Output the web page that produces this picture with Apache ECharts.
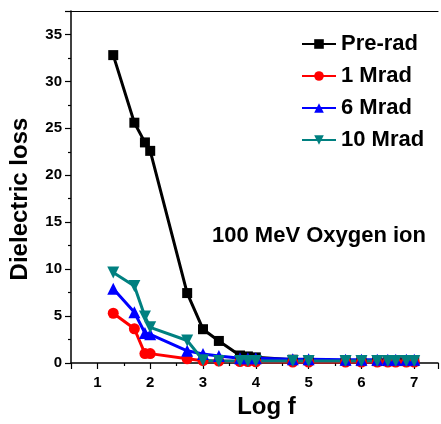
<!DOCTYPE html>
<html><head><meta charset="utf-8">
<script src="https://cdn.jsdelivr.net/npm/echarts@6/dist/echarts.min.js"></script>
<style>html,body{margin:0;padding:0;background:#fff}#c{width:441px;height:424px}</style>
</head><body><div id="c"></div>
<script>
const logF = [1.3, 1.7, 1.9, 2.0, 2.7, 3.0, 3.3, 3.7, 3.85, 4.0, 4.7, 5.0, 5.7, 6.0, 6.3, 6.5, 6.65, 6.85, 7.0];
const preRad = [32.8, 25.6, 23.5, 22.6, 7.45, 3.6, 2.35, 0.8, 0.7, 0.6, 0.35, 0.3, 0.25, 0.2, 0.2, 0.2, 0.2, 0.2, 0.2];
const mrad1 = [5.3, 3.65, 1.0, 1.0, 0.45, 0.25, 0.2, 0.15, 0.15, 0.12, 0.1, 0.1, 0.1, 0.1, 0.1, 0.1, 0.1, 0.1, 0.1];
const mrad6 = [7.9, 5.4, 3.2, 3.05, 1.3, 0.95, 0.75, 0.5, 0.5, 0.5, 0.4, 0.4, 0.35, 0.35, 0.35, 0.35, 0.35, 0.35, 0.35];
const mrad10 = [9.65, 8.2, 4.95, 3.8, 2.4, 0.3, 0.2, 0.2, 0.2, 0.2, 0.2, 0.2, 0.2, 0.2, 0.2, 0.2, 0.2, 0.2, 0.2];
const seriesNames = ['Pre-rad', '1 Mrad', '6 Mrad', '10 Mrad'];
const annotation = '100 MeV Oxygen ion';

const pair = ys => logF.map((x, i) => [x, ys[i]]);
const FONT = 'Liberation Sans, Arial, sans-serif';
const chart = echarts.init(document.getElementById('c'));
const mk = (name, ys, color, symbol, size, rot) => ({
  name, type: 'line', data: pair(ys), symbol, symbolSize: size, symbolRotate: rot || 0,
  lineStyle: { color, width: 3 }, itemStyle: { color }, showSymbol: true
});
chart.setOption({
  animation: false,
  grid: { left: 71, right: 1, top: 11, bottom: 61 },
  legend: {
    orient: 'vertical', left: 296, top: 28, itemWidth: 34, itemHeight: 12, itemGap: 10,
    textStyle: { fontFamily: FONT, fontWeight: 'bold', fontSize: 22, color: '#000' },
    data: seriesNames
  },
  xAxis: [{
    type: 'value', min: 0.5, max: 7.45, splitNumber: 7,
    name: 'Log f', nameLocation: 'middle', nameGap: 31,
    nameTextStyle: { fontFamily: FONT, fontWeight: 'bold', fontSize: 24, color: '#000', padding: [0, 0, 0, 24] },
    axisLine: { lineStyle: { color: '#000', width: 1.5 } },
    axisTick: { inside: false, length: 6, lineStyle: { color: '#000', width: 1.2 } },
    minorTick: { show: true, splitNumber: 2, length: 3, lineStyle: { color: '#000', width: 1.2 } },
    splitLine: { show: false },
    axisLabel: { fontFamily: FONT, fontWeight: 'bold', fontSize: 15, color: '#000', margin: 12,
      formatter: v => (Math.abs(v - Math.round(v)) < 1e-6 ? String(Math.round(v)) : '') }
  }, {
    type: 'value', position: 'top', min: 0.5, max: 7.45,
    axisLine: { show: true, onZero: false, lineStyle: { color: '#000', width: 1.2 } },
    axisTick: { show: false }, axisLabel: { show: false }, splitLine: { show: false }
  }],
  yAxis: {
    type: 'value', min: 0, max: 37.5, interval: 5,
    name: 'Dielectric loss', nameLocation: 'middle', nameGap: 39,
    nameTextStyle: { fontFamily: FONT, fontWeight: 'bold', fontSize: 24, color: '#000', padding: [0, 24, 0, 0] },
    axisLine: { show: true, lineStyle: { color: '#000', width: 1.5 } },
    axisTick: { length: 6, lineStyle: { color: '#000', width: 1.2 } },
    minorTick: { show: true, splitNumber: 2, length: 3, lineStyle: { color: '#000', width: 1.2 } },
    splitLine: { show: false },
    axisLabel: { fontFamily: FONT, fontWeight: 'bold', fontSize: 15, color: '#000', margin: 9,
      formatter: v => (v > 36 ? '' : String(v)) }
  },
  graphic: [{
    type: 'text', left: 212, top: 225,
    style: { text: annotation, fontFamily: FONT, fontWeight: 'bold', fontSize: 22, fill: '#000' }
  }],
  series: [
    mk(seriesNames[0], preRad, '#000000', 'rect', 10),
    mk(seriesNames[1], mrad1, '#ff0000', 'circle', 11),
    mk(seriesNames[2], mrad6, '#0000ff', 'triangle', 12),
    mk(seriesNames[3], mrad10, '#008080', 'triangle', 12, 180)
  ]
});
</script></body></html>
